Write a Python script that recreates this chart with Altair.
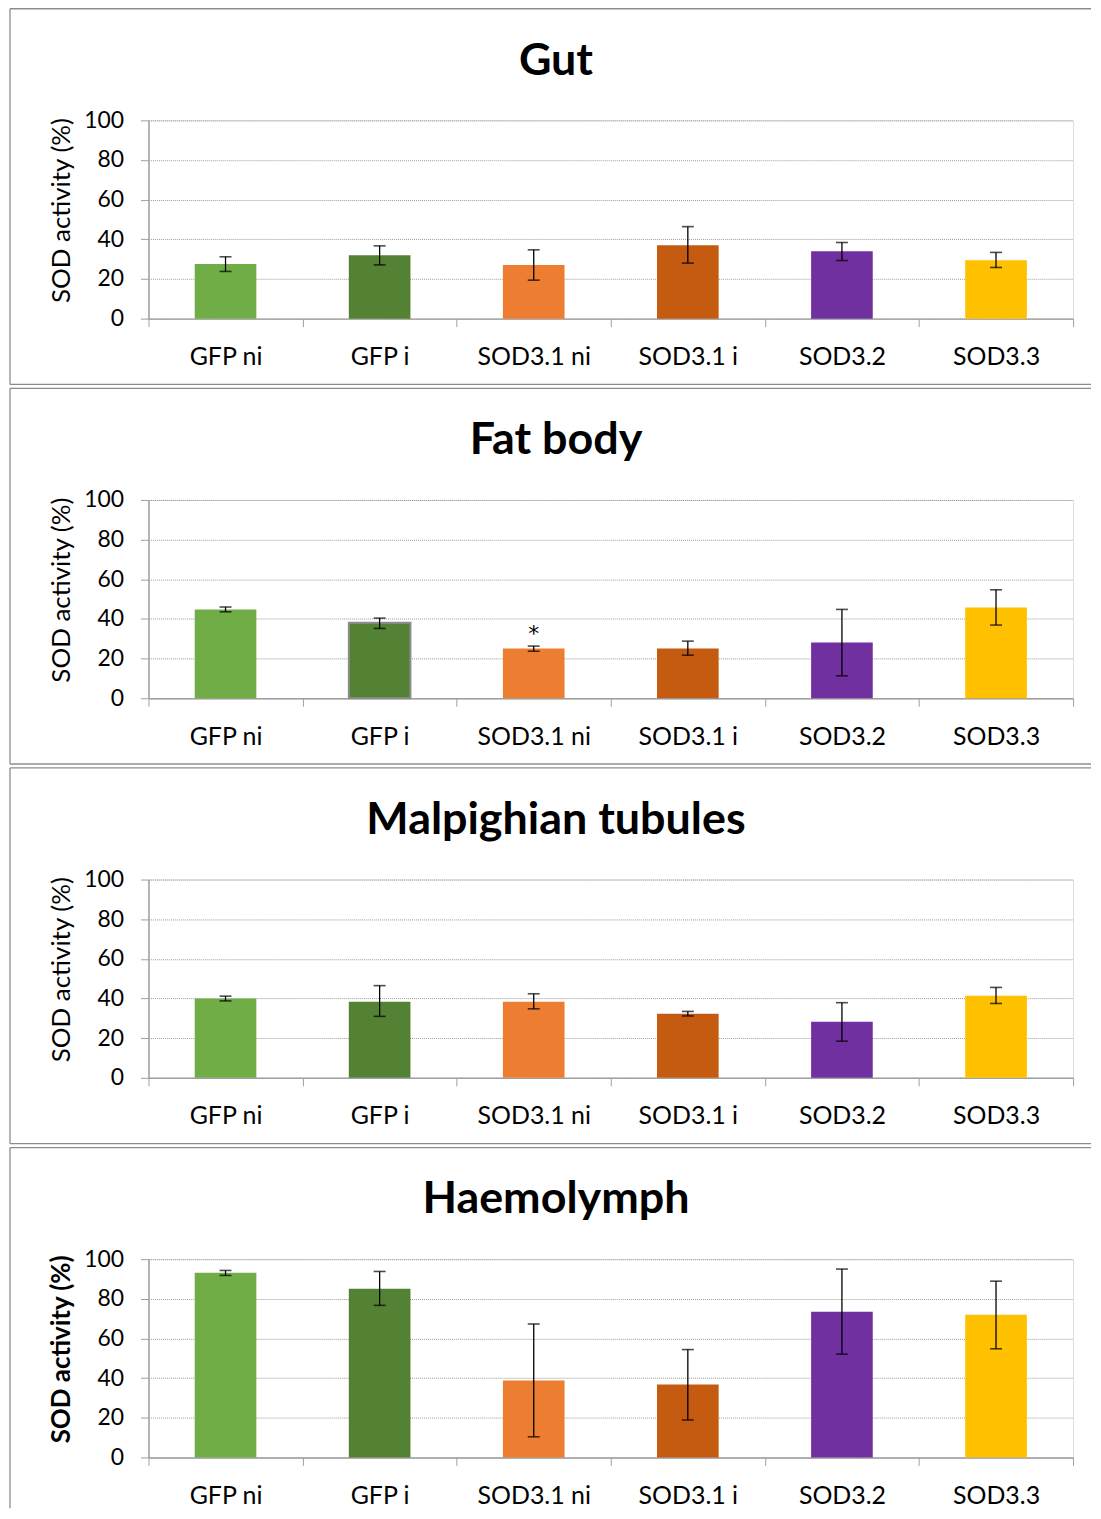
import altair as alt
import pandas as pd

categories = ["GFP ni", "GFP i", "SOD3.1 ni", "SOD3.1 i", "SOD3.2", "SOD3.3"]
colors = ["#70AD47", "#548235", "#ED7D31", "#C55A11", "#7030A0", "#FFC000"]

gut_mean = [27.5, 32.0, 27.0, 37.0, 34.0, 29.5]
gut_lo = [23.8, 27.1, 19.4, 28.0, 29.3, 25.8]
gut_hi = [31.2, 36.7, 34.7, 46.4, 38.4, 33.4]

fat_mean = [44.8, 38.1, 25.1, 25.1, 28.1, 45.8]
fat_lo = [43.6, 35.2, 23.7, 21.7, 11.3, 36.9]
fat_hi = [46.0, 40.4, 26.3, 28.8, 44.8, 54.7]
fat_outlined = ["GFP i"]

mal_mean = [40.0, 38.4, 38.4, 32.3, 28.3, 41.4]
mal_lo = [38.8, 31.0, 34.8, 31.2, 18.5, 37.5]
mal_hi = [41.2, 46.5, 42.4, 33.5, 37.9, 45.6]

hae_mean = [93.1, 85.1, 38.8, 36.8, 73.5, 72.0]
hae_lo = [91.8, 76.7, 10.4, 18.9, 52.1, 54.8]
hae_hi = [94.3, 93.8, 67.3, 54.4, 95.0, 88.9]

star_category = ["SOD3.1 ni"]
star_value = [29.0]

FONT = "Lato"
GREY = "#A0A0A0"
FRAME = "#8C8C8C"


def panel(title, mean, lo, hi, bold_ytitle=False, star=None, last=False, outlined=()):
    df = pd.DataFrame({"cat": categories, "mean": mean, "lo": lo, "hi": hi})
    xax = alt.Axis(title=None, labelAngle=0, labelFontSize=25, labelFont=FONT,
                   labelColor="#000000", tickBand="extent", tickSize=8,
                   tickColor=GREY, domainColor=GREY, domainWidth=1.5,
                   labelPadding=18, grid=False)
    yax = alt.Axis(title="SOD activity (%)", values=[0, 20, 40, 60, 80, 100],
                   titleFont=FONT, titleFontSize=26, titleY=90,
                   titleFontWeight="bold" if bold_ytitle else "normal",
                   titleColor="#000000", titlePadding=9,
                   labelFont=FONT, labelFontSize=23, labelColor="#000000",
                   labelPadding=17, tickSize=8, tickColor=GREY,
                   domainColor=GREY, domainWidth=1.5,
                   grid=True, gridDash=[1, 1], gridColor="#9A9A9A", gridWidth=1)
    xs = alt.Scale(domain=categories, paddingInner=0, paddingOuter=0)
    ys = alt.Scale(domain=[0, 100], nice=False)

    def X():
        return alt.X("cat:N", sort=categories, scale=xs, axis=xax)

    def Y(f):
        return alt.Y(f"{f}:Q", scale=ys, axis=yax)

    one = pd.DataFrame({"f": [0]})
    bottom = 250 if last else 265
    fr = [
        alt.Chart(one).mark_rule(color=FRAME, strokeWidth=1.3).encode(
            x=alt.value(-139), x2=alt.value(946), y=alt.value(-112)),
        alt.Chart(one).mark_rule(color=FRAME, strokeWidth=1.3).encode(
            x=alt.value(-139), y=alt.value(-112), y2=alt.value(bottom)),
    ]
    if not last:
        fr.append(alt.Chart(one).mark_rule(color=FRAME, strokeWidth=1.3).encode(
            x=alt.value(-139), x2=alt.value(946), y=alt.value(bottom)))
    ttl = alt.Chart(one).mark_text(font=FONT, fontSize=45, fontWeight="bold",
                                   baseline="alphabetic", align="center", color="#000000").encode(
        x=alt.value(409), y=alt.value(-46), text=alt.value(title))
    base = alt.Chart(df)
    bars = base.mark_bar(width=alt.RelativeBandSize(0.4), strokeWidth=2).encode(
        x=X(), y=Y("mean"),
        color=alt.Color("cat:N", scale=alt.Scale(domain=categories, range=colors), legend=None),
        stroke=alt.condition(alt.FieldOneOfPredicate(field="cat", oneOf=list(outlined) or ["__none__"]),
                             alt.value("#8E8E8E"), alt.value("transparent")))
    rule = base.mark_rule(color="black", strokeWidth=1.3).encode(x=X(), y=Y("lo"), y2="hi:Q")
    thi = base.mark_tick(color="black", size=12, thickness=1.6).encode(x=X(), y=Y("hi"))
    tlo = base.mark_tick(color="black", size=12, thickness=1.6).encode(x=X(), y=Y("lo"))
    layers = fr + [ttl, bars, rule, thi, tlo]
    if star is not None:
        sdf = pd.DataFrame({"cat": star[0], "y": star[1]})
        layers.append(alt.Chart(sdf).mark_text(font="DejaVu Sans", fontSize=22,
                                               baseline="alphabetic", color="#000000").encode(
            x=X(), y=Y("y"), text=alt.value("*")))
    return alt.layer(*layers).properties(width=928, height=199)


chart = alt.vconcat(
    panel("Gut", gut_mean, gut_lo, gut_hi),
    panel("Fat body", fat_mean, fat_lo, fat_hi, star=(star_category, star_value), outlined=fat_outlined),
    panel("Malpighian tubules", mal_mean, mal_lo, mal_hi),
    panel("Haemolymph", hae_mean, hae_lo, hae_hi, bold_ytitle=True, last=True),
    spacing=0,
).properties(padding={"left": 0, "top": -4, "right": 0, "bottom": 0}).configure_view(
    stroke="transparent").configure(background="white")

chart.save("out.html", embed_options={"renderer": "svg", "actions": False})
